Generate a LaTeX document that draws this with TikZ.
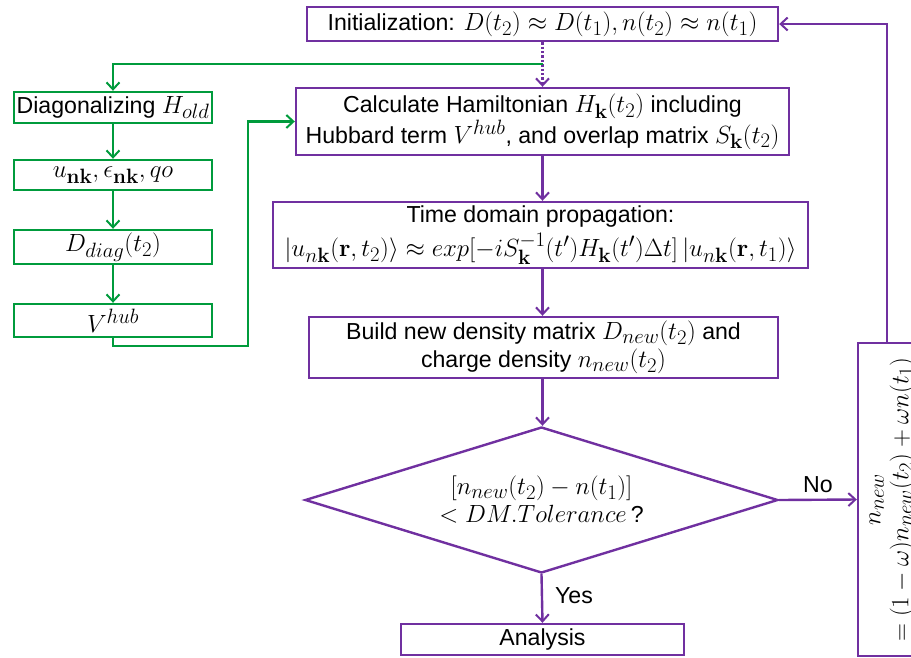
\documentclass[tikz,border=0pt]{standalone}
\usepackage[no-math]{fontspec}
\setmainfont{Liberation Sans}[Scale=0.93]
\usetikzlibrary{arrows.meta,shapes.geometric,calc}
\definecolor{pur}{RGB}{112,48,160}
\definecolor{grn}{RGB}{0,155,60}
\begin{document}
\begin{tikzpicture}[x=1pt,y=-1pt,
  font=\fontsize{24.88}{28}\selectfont,
  pbox/.style={draw=pur,line width=2.4pt,inner sep=1pt,align=center},
  gbox/.style={draw=grn,line width=2.4pt,inner sep=1pt,align=center,minimum width=198pt},
  parr/.style={draw=pur,line width=2.4pt,-{Straight Barb[length=7pt,width=13pt,line width=2pt]}},
  garr/.style={draw=grn,line width=2.4pt,-{Straight Barb[length=7pt,width=13pt,line width=2pt]}},
  lbl/.style={inner sep=0pt}]
\useasboundingbox (0,0) rectangle (911,657);
\node[pbox,minimum width=471pt,minimum height=34pt] (init) at (542.5,24)
  {Initialization: $D(t_2)\approx D(t_1), n(t_2)\approx n(t_1)$};
\node[pbox,minimum width=493pt,minimum height=67pt] (ham) at (542.5,121.5)
  {Calculate Hamiltonian $H_{\mathbf{k}}(t_2)$ including\\Hubbard term $V^{hub}$, and overlap matrix $S_{\mathbf{k}}(t_2)$};
\node[pbox,minimum width=535pt,minimum height=66pt,inner sep=0pt] (time) at (540.5,235)
  {Time domain propagation:\\[5pt]$|u_{n\mathbf{k}}(\mathbf{r},t_2)\rangle\approx exp\bigl[-iS_{\mathbf{k}}^{-1}(t')H_{\mathbf{k}}(t')\Delta t\bigr]\,|u_{n\mathbf{k}}(\mathbf{r},t_1)\rangle$};
\node[pbox,minimum width=469pt,minimum height=61pt] (build) at (543.5,347.5)
  {Build new density matrix $D_{new}(t_2)$ and\\charge density $n_{new}(t_2)$};
\node[pbox,diamond,shape aspect=3.24,inner sep=0pt,minimum width=473pt,minimum height=146pt] (dec) at (541.5,500)
  {$[n_{new}(t_2)-n(t_1)]$\\$<DM.Tolerance$\,?};
\node[pbox,minimum width=283pt,minimum height=31pt] (ana) at (542.5,639.5) {Analysis};
\node[pbox,minimum width=313pt,minimum height=68pt,rotate=90] (upd) at (892,499.5)
  {$n_{new}$\\$=(1-\omega)n_{new}(t_2)+\omega n(t_1)$};
\node[gbox,minimum height=31pt] (diag) at (113,107.5) {Diagonalizing $H_{old}$};
\node[gbox,minimum height=30pt] (unk) at (113,175) {$u_{\mathbf{nk}},\epsilon_{\mathbf{nk}},qo$};
\node[gbox,minimum height=34pt] (dd) at (113,247) {$D_{diag}(t_2)$};
\node[gbox,minimum height=33pt] (vh) at (113,320.5) {$V^{hub}$};
\coordinate (split) at (542.5,64);
\coordinate (gturn) at (248,346);
\coordinate (rx) at (887,0);
% connectors
\draw[parr,dotted] (init.south) -- (ham.north);
\draw[garr] (split) -| (diag.north);
\draw[garr] (diag) -- (unk);
\draw[garr] (unk) -- (dd);
\draw[garr] (dd) -- (vh);
\draw[garr] (vh.south) |- (gturn) |- (ham.west);
\draw[parr] (ham.south) -- (ham.south |- time.north);
\draw[parr] (time.south -| ham.south) -- (build.north -| ham.south);
\draw[parr] (build.south -| ham.south) -- (dec.north -| ham.south);
\draw[parr] (dec.south) -- node[lbl,right=12pt,pos=0.45] {Yes} (ana.north);
\draw[parr] (dec.east) -- node[lbl,above=6pt] {No} (upd.north);
\draw[parr] (upd.east -| rx) |- (init.east);
\end{tikzpicture}
\end{document}
